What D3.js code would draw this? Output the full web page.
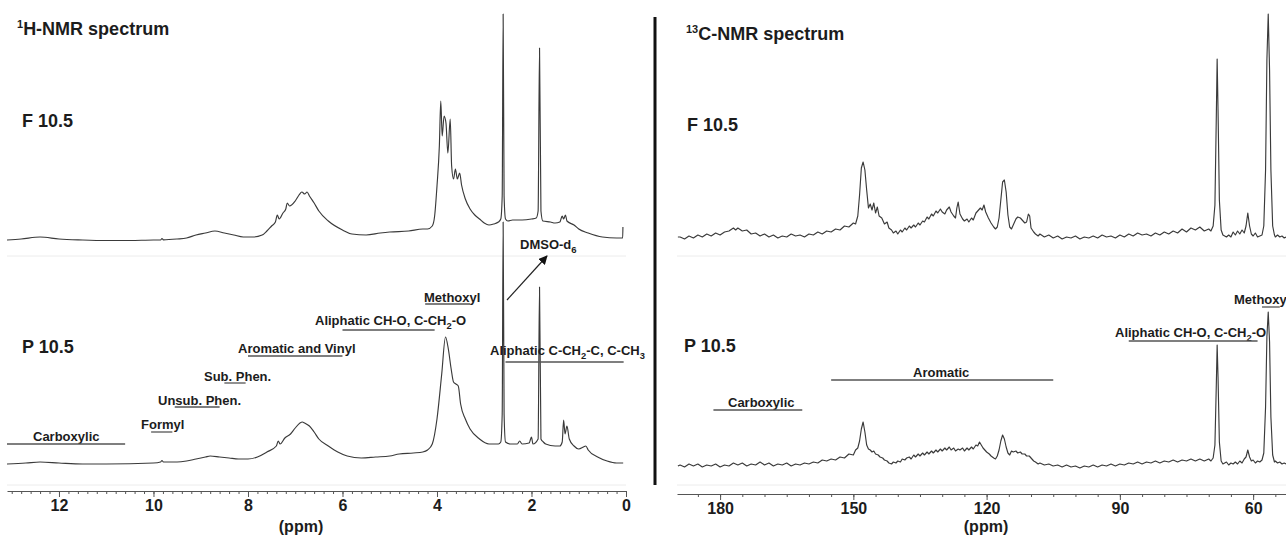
<!DOCTYPE html>
<html>
<head>
<meta charset="utf-8">
<script src="https://cdn.jsdelivr.net/npm/d3@7/dist/d3.min.js"></script>
<style>
  body { margin: 0; background: #fff; }
  text { font-family: "Liberation Sans", Arial, sans-serif; font-weight: bold; fill: #1c1c1c; }
</style>
</head>
<body>
<div id="chart"></div>
<script>
//////////////////////////////////////////////////////////////////////////
// global variables

var Width = 1286;
var Height = 535;

// 1H spectra, [ppm, intensity]
var hnmrF = [[13.1,1],[12.8,2],[12.4,4],[12.0,2],[11.5,1],[11.0,0.5],[10.5,0.5],[10.0,1],[9.85,1],[9.82,2.5],[9.79,1.2],
  [9.5,2],[9.3,3],[9.1,6],[8.9,8],[8.7,10],[8.5,8],[8.3,6],[8.1,4],[7.9,4],[7.7,6],[7.6,10],[7.5,15],[7.42,19],[7.38,26],
  [7.34,22],[7.26,28],[7.2,32],[7.17,38],[7.12,35],[7.0,40],[6.92,46],[6.86,49],[6.8,47],[6.75,49],[6.7,45],[6.6,38],
  [6.5,30],[6.3,20],[6.0,11],[5.8,7],[5.5,6],[5.2,8],[5.0,9],[4.6,10],[4.3,12],[4.2,12],[4.1,15],[4.05,25],[4.0,55],
  [3.95,95],[3.92,140],[3.89,105],[3.85,125],[3.81,118],[3.77,88],[3.72,122],[3.69,75],[3.65,62],[3.61,72],[3.57,62],
  [3.52,68],[3.48,56],[3.4,42],[3.3,32],[3.2,26],[3.1,22],[3.0,18],[2.9,16],[2.8,17],[2.7,19],[2.65,22],[2.62,45],
  [2.6,227],[2.58,45],[2.55,22],[2.5,20],[2.4,21],[2.2,21],[2.0,22],[1.9,23],[1.86,30],[1.83,193],[1.8,30],[1.76,20],
  [1.6,19],[1.5,18],[1.4,19],[1.35,25],[1.32,22],[1.28,26],[1.25,20],[1.1,16],[1.0,12],[0.8,8],[0.5,4],[0.2,3],
  [0.07,3],[0.065,14]];

var hnmrP = [[13.1,0],[12.7,1],[12.4,2],[12.0,1],[11.5,0],[11.0,0],[10.0,1],[9.85,2],[9.82,3.5],[9.79,2],[9.5,2],
  [9.3,3],[9.1,5],[8.9,7],[8.8,8],[8.6,7],[8.4,6],[8.2,5],[8.0,5],[7.8,7],[7.6,12],[7.4,18],[7.36,23],[7.32,20],
  [7.22,26],[7.1,30],[7.0,36],[6.9,41],[6.85,42],[6.8,41],[6.7,38],[6.6,32],[6.5,25],[6.3,18],[6.1,12],[5.9,8],
  [5.6,6],[5.3,7],[5.0,8],[4.8,10],[4.5,11],[4.3,12],[4.2,14],[4.1,20],[4.0,45],[3.9,90],[3.82,127],[3.76,115],
  [3.7,95],[3.65,82],[3.6,80],[3.55,78],[3.5,60],[3.4,45],[3.3,35],[3.1,25],[2.9,20],[2.8,20],[2.7,20],[2.65,22],
  [2.62,50],[2.6,242],[2.58,50],[2.55,22],[2.45,20],[2.3,20],[2.25,23],[2.2,20],[2.05,21],[2.0,27],[1.97,20],
  [1.86,25],[1.83,177],[1.8,25],[1.75,22],[1.7,20],[1.5,18],[1.4,18],[1.35,22],[1.32,44],[1.29,30],[1.25,38],
  [1.2,25],[1.1,18],[1.0,15],[0.9,17],[0.85,18],[0.8,14],[0.6,7],[0.4,3],[0.2,1],[0.06,1]];

// 13C spectra, [ppm, intensity]
var cnmrF = [[189.5,3],[189,3],[188,1],[187,4],[186,2],[185,5],[184,3],[183,6],[182,4],[181,7],[180,5],[179,8],[178,9],
  [177,12],[176.5,10],[176,12],[175,9],[174,10],[173,6],[172,7],[171,4],[170,6],[169,3],[168,5],[167,2],[166,4],
  [165,3],[164,6],[163,4],[162,5],[161,3],[160,6],[159,5],[158,8],[157,6],[156,9],[155,8],[154,11],[153,10],[152,14],
  [151,13],[150,17],[149.5,16],[149,24],[148.6,45],[148.2,72],[147.8,78],[147.4,70],[147,50],[146.6,32],[146.2,36],
  [145.8,30],[145.4,37],[145,27],[144.6,33],[144.2,24],[143.6,22],[143,16],[142.4,18],[142,12],[141.4,10],[141,7],
  [140.4,9],[140,6],[139.4,10],[139,8],[138.4,12],[138,10],[137.4,14],[137,12],[136.4,15],[136,13],[135.4,17],[135,15],
  [134.4,19],[134,18],[133.4,23],[133,21],[132.4,26],[132,24],[131.4,29],[131,27],[130.4,31],[130,28],[129.4,26],
  [129,30],[128.4,33],[128,28],[127.4,24],[127,22],[126.7,32],[126.4,38],[126,26],[125.4,21],[125,19],[124.4,21],
  [124,18],[123.4,22],[123,20],[122.4,27],[122,29],[121.4,32],[121,30],[120.6,35],[120.2,28],[119.6,22],[119,17],
  [118.4,13],[118,11],[117.6,13],[117.2,22],[116.8,40],[116.4,58],[116,60],[115.6,48],[115.2,25],[114.8,13],[114.4,11],
  [114,15],[113.4,21],[113,23],[112.4,22],[112,20],[111.4,17],[111,18],[110.6,26],[110.3,24],[110,12],[109.4,8],
  [109,6],[108.4,4],[108,6],[107,3],[106,5],[105,2],[104,4],[103,1],[102,3],[101,2],[100,4],[99,1],[98,3],[97,2],
  [96,4],[95,2],[94,5],[93,3],[92,4],[91,2],[90,5],[89,3],[88,6],[87,4],[86,7],[85,5],[84,6],[83,4],[82,7],[81,5],
  [80,8],[79,6],[78,9],[77,7],[76,11],[75,8],[74,12],[73,10],[72,13],[71,9],[70,11],[69.5,9],[69,14],[68.6,35],
  [68.3,120],[68.1,181],[67.9,130],[67.6,40],[67.2,10],[66.8,5],[66,3],[65.5,5],[65,3],[64.5,8],[64,5],[63.5,9],
  [63,6],[62.5,10],[62,7],[61.6,14],[61.2,27],[60.8,14],[60.4,6],[60,4],[59.5,7],[59,3],[58.5,4],[58,5],[57.6,14],
  [57.2,70],[56.9,180],[56.6,226],[56.3,170],[56,70],[55.6,14],[55.2,5],[55,3],[54.5,5],[54,3],[53.5,4],[53,2],[52.6,3]];

var cnmrP = [[189.5,1],[189,2],[188,0],[187,3],[186,1],[185,3],[184,0],[183,2],[182,1],[181,3],[180,0],[179,2],[178,1],
  [177,4],[176,2],[175,4],[174,1],[173,3],[172,2],[171,5],[170,2],[169,4],[168,1],[167,3],[166,2],[165,4],[164,1],
  [163,3],[162,2],[161,4],[160,3],[159,5],[158,4],[157,7],[156,6],[155,8],[154,7],[153,10],[152,9],[151,13],[150,12],
  [149.5,17],[149,19],[148.6,26],[148.2,38],[147.8,45],[147.4,35],[147,22],[146.6,18],[146.2,17],[145.8,15],[145.4,16],
  [145,13],[144.4,12],[144,10],[143.4,9],[143,7],[142.4,6],[142,4],[141.4,3],[141,5],[140.4,4],[140,6],[139.4,5],
  [139,8],[138.4,7],[138,9],[137.4,10],[137,8],[136.4,12],[136,10],[135.4,13],[135,11],[134.4,14],[134,12],[133.4,15],
  [133,13],[132.4,16],[132,14],[131.4,17],[131,15],[130.4,18],[130,16],[129.4,19],[129,17],[128.4,20],[128,17],
  [127.4,19],[127,16],[126.4,18],[126,17],[125.4,19],[125,16],[124.4,19],[124,17],[123.4,20],[123,18],[122.4,22],
  [122,21],[121.6,25],[121.2,22],[120.8,19],[120.4,17],[120,15],[119.4,13],[119,11],[118.4,9],[118,8],[117.6,11],
  [117.2,17],[116.8,26],[116.4,32],[116,28],[115.6,20],[115.2,14],[114.8,12],[114.4,16],[114,15],[113.4,16],[113,14],
  [112.4,15],[112,13],[111.4,13],[111,11],[110.4,11],[110,9],[109.4,6],[109,5],[108.4,3],[108,4],[107,2],[106,3],
  [105,1],[104,2],[103,0],[102,2],[101,0],[100,1],[99,-1],[98,1],[97,0],[96,2],[95,0],[94,2],[93,1],[92,3],[91,1],
  [90,3],[89,2],[88,4],[87,3],[86,5],[85,3],[84,5],[83,4],[82,6],[81,4],[80,6],[79,5],[78,7],[77,5],[76,7],[75,6],
  [74,8],[73,6],[72,8],[71,6],[70,8],[69.5,6],[69,9],[68.6,22],[68.3,80],[68.1,122],[67.9,90],[67.6,25],[67.2,6],
  [66.8,3],[66,5],[65.5,2],[65,4],[64.5,3],[64,5],[63.5,3],[63,6],[62.5,4],[62,8],[61.6,10],[61.2,17],[60.8,10],
  [60.4,6],[60,7],[59.5,4],[59,6],[58.5,5],[58,7],[57.6,14],[57.2,60],[56.9,130],[56.6,155],[56.3,125],[56,50],
  [55.6,12],[55.2,5],[55,6],[54.5,4],[54,5],[53.5,3],[53,4],[52.6,3]];

// assignment regions, [label, from ppm, to ppm]
var hRegions = [["Carboxylic",13.1,10.6],["Formyl",10.05,9.6],["Unsub. Phen.",9.55,8.6],["Sub. Phen.",8.5,8.05],
  ["Aromatic and Vinyl",8.0,6.0],["Aliphatic CH-O, C-CH2-O",6.0,4.05],["Methoxyl",4.25,3.3],
  ["Aliphatic C-CH2-C, C-CH3",2.55,0.05]];
var cRegions = [["Carboxylic",181.5,161.5],["Aromatic",155,105],["Aliphatic CH-O, C-CH2-O",88,59],["Methoxyl",58,54]];

// tick labels
var hTickLabels = [12, 10, 8, 6, 4, 2, 0];
var cTickLabels = [180, 150, 120, 90, 60];

//////////////////////////////////////////////////////////////////////////
// layout (pixels): where each label text starts, its baseline and the underline y
var hLabelPos = [[33,441,444],[141,429,432],[158,405,407],[204,381,383],[238,353,356],[315,325,330],[424,302,304],[490,355,362]];
var cLabelPos = [[728,407,410],[913,377,380],[1115,337,341],[1234,304,307]];

var lineColor = "#3a3a3a";

//////////////////////////////////////////////////////////////////////////
// functions

// draw text, turning the digit after "CH" into a subscript
function addText(g, str, x, y, size) {
    var t = g.append("text").attr("x", x).attr("y", y).attr("font-size", size);
    var shift = size * 0.28;
    var lowered = false;
    str.split(/(CH[23])/).forEach(function (p) {
        if (!p.length) return;
        if (/^CH[23]$/.test(p)) {
            t.append("tspan").attr("dy", lowered ? -shift : 0).text("CH");
            t.append("tspan").attr("font-size", size * 0.72).attr("dy", shift).text(p.charAt(2));
            lowered = true;
        } else {
            t.append("tspan").attr("dy", lowered ? -shift : 0).text(p);
            lowered = false;
        }
    });
    return t;
}

function drawAxis(svg, x, y, labelVals, minorStep) {
    var dom = x.domain();
    var lo = Math.min(dom[0], dom[1]), hi = Math.max(dom[0], dom[1]);
    var minor = d3.range(Math.ceil(lo / minorStep) * minorStep, hi + 1e-9, minorStep);

    // minor ticks and the axis line
    var gm = svg.append("g")
        .attr("transform", "translate(0," + y + ")")
        .call(d3.axisBottom(x).tickValues(minor).tickSize(3).tickSizeOuter(0));
    gm.selectAll("text").remove();
    gm.selectAll("path,line").attr("stroke", "#555");

    // labelled ticks
    var gl = svg.append("g")
        .attr("transform", "translate(0," + y + ")")
        .call(d3.axisBottom(x).tickValues(labelVals).tickSize(6).tickSizeOuter(0).tickPadding(3));
    gl.select(".domain").remove();
    gl.selectAll("line").attr("stroke", "#555");
    gl.selectAll("text").attr("font-size", 16).attr("font-family", null).attr("fill", "#1c1c1c");
}

function drawSpectrum(svg, data, x, y, curve) {
    svg.append("path")
        .datum(data)
        .attr("fill", "none")
        .attr("stroke", lineColor)
        .attr("stroke-width", 1.15)
        .attr("stroke-linejoin", "round")
        .attr("d", d3.line()
            .x(function (d) { return x(d[0]); })
            .y(function (d) { return y(d[1]); })
            .curve(curve));
}

function drawRegions(svg, regions, pos, x) {
    regions.forEach(function (r, i) {
        var p = pos[i];
        addText(svg, r[0], p[0], p[1], 13);
        svg.append("line")
            .attr("x1", x(r[1])).attr("x2", x(r[2]))
            .attr("y1", p[2]).attr("y2", p[2])
            .attr("stroke", "#555").attr("stroke-width", 1.3);
    });
}

function initialize() {
    var svg = d3.select("#chart").append("svg")
        .attr("width", Width).attr("height", Height);

    // scales
    var xH = d3.scaleLinear().domain([13.1, 0]).range([7, 626]);
    var xC = d3.scaleLinear().domain([189.7, 52.6]).range([677, 1286]);
    var yHF = d3.scaleLinear().domain([0, 100]).range([241, 141]);
    var yHP = d3.scaleLinear().domain([0, 100]).range([464, 364]);
    var yCF = d3.scaleLinear().domain([0, 100]).range([240, 140]);
    var yCP = d3.scaleLinear().domain([0, 100]).range([467, 367]);

    // faint frame lines between the two traces
    [[7, 626], [677, 1286]].forEach(function (r) {
        [256, 485].forEach(function (yy) {
            svg.append("line").attr("x1", r[0]).attr("x2", r[1]).attr("y1", yy).attr("y2", yy)
                .attr("stroke", "#ececec").attr("stroke-width", 1);
        });
    });

    // divider
    svg.append("line").attr("x1", 655).attr("x2", 655).attr("y1", 17).attr("y2", 485)
        .attr("stroke", "#111").attr("stroke-width", 3);

    // axes
    drawAxis(svg, xH, 491, hTickLabels, 0.2);
    drawAxis(svg, xC, 494, cTickLabels, 5);
    svg.append("text").attr("x", 301).attr("y", 532).attr("text-anchor", "middle").attr("font-size", 16).text("(ppm)");
    svg.append("text").attr("x", 986).attr("y", 532).attr("text-anchor", "middle").attr("font-size", 16).text("(ppm)");

    // spectra
    drawSpectrum(svg, hnmrF, xH, yHF, d3.curveMonotoneX);
    drawSpectrum(svg, hnmrP, xH, yHP, d3.curveMonotoneX);
    drawSpectrum(svg, cnmrF, xC, yCF, d3.curveLinear);
    drawSpectrum(svg, cnmrP, xC, yCP, d3.curveLinear);

    // titles
    var t1 = svg.append("text").attr("x", 17).attr("y", 35).attr("font-size", 18);
    t1.append("tspan").attr("font-size", 11).attr("dy", -7).text("1");
    t1.append("tspan").attr("dy", 7).text("H-NMR spectrum");
    var t2 = svg.append("text").attr("x", 686).attr("y", 40).attr("font-size", 18);
    t2.append("tspan").attr("font-size", 11).attr("dy", -7).text("13");
    t2.append("tspan").attr("dy", 7).text("C-NMR spectrum");

    svg.append("text").attr("x", 22).attr("y", 127).attr("font-size", 18).text("F 10.5");
    svg.append("text").attr("x", 22).attr("y", 353).attr("font-size", 18).text("P 10.5");
    svg.append("text").attr("x", 687).attr("y", 131).attr("font-size", 18).text("F 10.5");
    svg.append("text").attr("x", 684).attr("y", 352).attr("font-size", 18).text("P 10.5");

    // region labels
    drawRegions(svg, hRegions, hLabelPos, xH);
    drawRegions(svg, cRegions, cLabelPos, xC);

    // DMSO-d6 label and arrow
    var dm = svg.append("text").attr("x", 520).attr("y", 249).attr("font-size", 13);
    dm.append("tspan").text("DMSO-d");
    dm.append("tspan").attr("font-size", 9.5).attr("dy", 3.5).text("6");

    svg.append("defs").append("marker")
        .attr("id", "arrow").attr("viewBox", "0 0 10 10")
        .attr("refX", 9).attr("refY", 5)
        .attr("markerWidth", 9).attr("markerHeight", 9)
        .attr("markerUnits", "userSpaceOnUse")
        .attr("orient", "auto")
        .append("path").attr("d", "M0,0 L10,5 L0,10 z").attr("fill", "#111");
    svg.append("line").attr("x1", 507).attr("y1", 300).attr("x2", 547).attr("y2", 256)
        .attr("stroke", "#222").attr("stroke-width", 1.2).attr("marker-end", "url(#arrow)");
}

initialize();
</script>
</body>
</html>
